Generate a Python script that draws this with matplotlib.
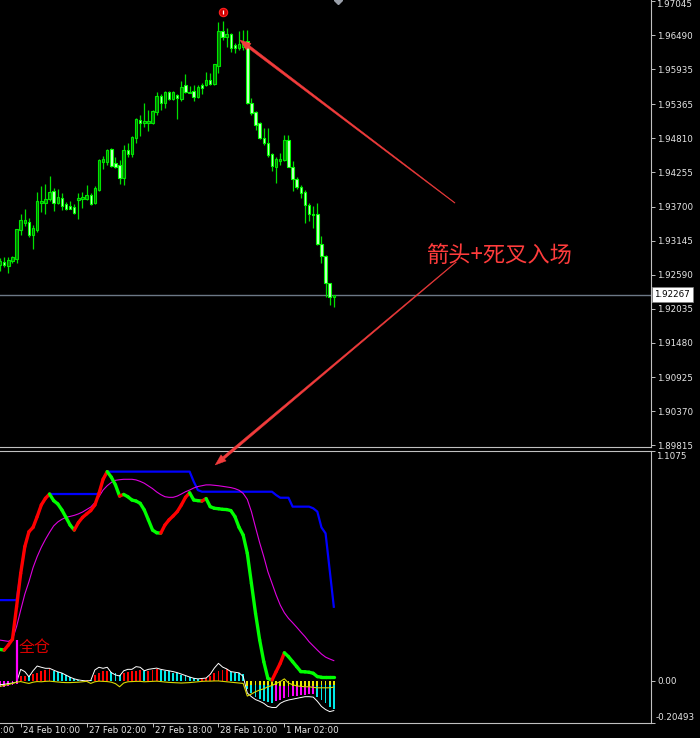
import numpy as np
import matplotlib
matplotlib.use("Agg")
import matplotlib.pyplot as plt
from matplotlib.collections import LineCollection
from matplotlib.patches import Polygon
from matplotlib import transforms as mtransforms

plt.rcParams['font.family'] = ['DejaVu Sans']

# ---------------- H1 price bars (bar 0 = 24 Feb 10:00) ----------------
bar_index = list(range(-5, 77))

open_ = [1.92749, 1.92797, 1.92733, 1.92814, 1.92846,
         1.93318, 1.93432, 1.93448, 1.93237, 1.93318, 1.93758, 1.93758, 1.93823, 1.93953, 1.93758,
         1.93839, 1.93741, 1.93709, 1.93693, 1.93806, 1.93823, 1.93823, 1.93888, 1.93758, 1.93969,
         1.94425, 1.94425, 1.94636, 1.94409, 1.94376, 1.94164, 1.94620, 1.94555, 1.94815, 1.95108,
         1.95059, 1.95059, 1.95059, 1.95238, 1.95499, 1.95385, 1.95564, 1.95450, 1.95515, 1.95450,
         1.95678, 1.95548, 1.95580, 1.95483, 1.95678, 1.95678, 1.95759, 1.95694, 1.95987, 1.96557,
         1.96459, 1.96508, 1.96329, 1.96280, 1.96296, 1.96394, 1.95385, 1.95238, 1.95059, 1.94815,
         1.94734, 1.94555, 1.94343, 1.94441, 1.94457, 1.94783, 1.94343, 1.94148, 1.94018, 1.93937,
         1.93725, 1.93579, 1.93579, 1.93090, 1.92895, 1.92456, 1.92228]
high = [1.92863, 1.92879, 1.92879, 1.92895, 1.93335,
        1.93579, 1.93660, 1.93514, 1.93400, 1.93937, 1.94034, 1.94067, 1.94197, 1.94002, 1.93985,
        1.93920, 1.93774, 1.93790, 1.93741, 1.93920, 1.93937, 1.94051, 1.93920, 1.94034, 1.94474,
        1.94522, 1.94636, 1.94653, 1.94506, 1.94457, 1.94701, 1.94734, 1.94848, 1.95141, 1.95190,
        1.95385, 1.95271, 1.95271, 1.95564, 1.95531, 1.95580, 1.95580, 1.95580, 1.95531, 1.95743,
        1.95857, 1.95662, 1.95678, 1.95678, 1.95710, 1.95889, 1.95873, 1.96020, 1.96703, 1.96719,
        1.96605, 1.96524, 1.96361, 1.96557, 1.96573, 1.96573, 1.95466, 1.95255, 1.95076, 1.94978,
        1.94978, 1.94571, 1.94506, 1.94571, 1.94864, 1.94864, 1.94441, 1.94181, 1.94051, 1.93969,
        1.93758, 1.93709, 1.93758, 1.93221, 1.92911, 1.92456, 1.92267]
low = [1.92651, 1.92716, 1.92618, 1.92781, 1.92781,
       1.93237, 1.93383, 1.93204, 1.93009, 1.93286, 1.93611, 1.93579, 1.93790, 1.93627, 1.93741,
       1.93644, 1.93644, 1.93660, 1.93579, 1.93497, 1.93676, 1.93806, 1.93725, 1.93741, 1.93953,
       1.94311, 1.94376, 1.94343, 1.94327, 1.94067, 1.94051, 1.94506, 1.94506, 1.94734, 1.94848,
       1.94994, 1.94929, 1.95043, 1.95190, 1.95271, 1.95304, 1.95434, 1.95434, 1.95125, 1.95418,
       1.95548, 1.95548, 1.95418, 1.95466, 1.95531, 1.95662, 1.95678, 1.95678, 1.95873, 1.96410,
       1.96296, 1.96215, 1.96199, 1.96247, 1.96247, 1.95369, 1.95190, 1.94946, 1.94799, 1.94701,
       1.94506, 1.94278, 1.94083, 1.94376, 1.94441, 1.94343, 1.93953, 1.93985, 1.93839, 1.93432,
       1.93465, 1.93351, 1.93074, 1.92781, 1.92228, 1.92098, 1.92065]
close = [1.92814, 1.92749, 1.92830, 1.92879, 1.93335,
         1.93481, 1.93481, 1.93237, 1.93351, 1.93790, 1.93790, 1.93823, 1.93937, 1.93758, 1.93855,
         1.93709, 1.93660, 1.93660, 1.93595, 1.93839, 1.93855, 1.93888, 1.93741, 1.94002, 1.94457,
         1.94474, 1.94620, 1.94360, 1.94343, 1.94164, 1.94620, 1.94555, 1.94832, 1.95125, 1.95059,
         1.95092, 1.95092, 1.95255, 1.95499, 1.95385, 1.95564, 1.95450, 1.95564, 1.95466, 1.95645,
         1.95564, 1.95564, 1.95483, 1.95645, 1.95629, 1.95759, 1.95694, 1.96020, 1.96557, 1.96459,
         1.96508, 1.96280, 1.96280, 1.96345, 1.96378, 1.95385, 1.95222, 1.95027, 1.94815, 1.94734,
         1.94539, 1.94360, 1.94474, 1.94474, 1.94783, 1.94343, 1.94148, 1.94018, 1.93920, 1.93725,
         1.93579, 1.93562, 1.93090, 1.92895, 1.92456, 1.92228, 1.92267]

time_ticks = [-16, 0, 16, 32, 48, 64]
time_labels = ["23 Feb 18:00", "24 Feb 10:00", "27 Feb 02:00", "27 Feb 18:00",
               "28 Feb 10:00", "1 Mar 02:00"]
price_ticks = [1.97045, 1.96490, 1.95935, 1.95365, 1.94810, 1.94255, 1.93700,
               1.93145, 1.92590, 1.92035, 1.91480, 1.90925, 1.90370, 1.89815]
price_range = (1.89787, 1.97061)

# ---------------- oscillator window ----------------
osc_range = (-0.20493, 1.1075)
main_line = [0.150, 0.147, 0.171, 0.199, 0.356,
             0.517, 0.646, 0.718, 0.739, 0.791, 0.847, 0.879, 0.900, 0.868, 0.852,
             0.823, 0.787, 0.750, 0.726, 0.762, 0.787, 0.804, 0.820, 0.847, 0.903,
             0.971, 1.008, 0.981, 0.944, 0.890, 0.898, 0.887, 0.871, 0.866, 0.855,
             0.823, 0.775, 0.726, 0.713, 0.711, 0.750, 0.775, 0.794, 0.815, 0.847,
             0.884, 0.906, 0.871, 0.868, 0.866, 0.878, 0.839, 0.831, 0.829, 0.826,
             0.825, 0.820, 0.791, 0.739, 0.702, 0.614, 0.469, 0.324, 0.196, 0.091,
             0.010, 0.002, 0.043, 0.083, 0.134, 0.115, 0.091, 0.067, 0.043, 0.042,
             0.040, 0.035, 0.019, 0.016, 0.016, 0.016, 0.016]
upper_line = [0.388, 0.388, 0.388, 0.388, 0.388,
              0.517, 0.646, 0.718, 0.739, 0.791, 0.847, 0.879, 0.900, 0.900, 0.900,
              0.900, 0.900, 0.900, 0.900, 0.900, 0.900, 0.900, 0.900, 0.900, 0.900,
              0.971, 1.008, 1.008, 1.008, 1.008, 1.008, 1.008, 1.008, 1.008, 1.008,
              1.008, 1.008, 1.008, 1.008, 1.008, 1.008, 1.008, 1.008, 1.008, 1.008,
              1.008, 1.008, 0.960, 0.919, 0.911, 0.911, 0.911, 0.911, 0.911, 0.911,
              0.911, 0.911, 0.911, 0.911, 0.911, 0.911, 0.911, 0.911, 0.911, 0.911,
              0.911, 0.911, 0.895, 0.882, 0.882, 0.882, 0.839, 0.839, 0.839, 0.839,
              0.839, 0.831, 0.815, 0.739, 0.710, 0.533, 0.356]
signal_line = [0.195, 0.192, 0.189, 0.199, 0.260,
               0.340, 0.417, 0.477, 0.545, 0.598, 0.643, 0.681, 0.715, 0.746, 0.765,
               0.778, 0.787, 0.792, 0.797, 0.804, 0.813, 0.825, 0.837, 0.858, 0.887,
               0.919, 0.940, 0.956, 0.966, 0.969, 0.971, 0.971, 0.971, 0.968, 0.961,
               0.952, 0.939, 0.926, 0.910, 0.897, 0.887, 0.884, 0.884, 0.890, 0.900,
               0.911, 0.919, 0.929, 0.936, 0.940, 0.944, 0.944, 0.942, 0.940, 0.937,
               0.934, 0.931, 0.926, 0.918, 0.903, 0.874, 0.815, 0.739, 0.665, 0.598,
               0.525, 0.469, 0.413, 0.364, 0.327, 0.300, 0.279, 0.257, 0.234, 0.212,
               0.187, 0.167, 0.147, 0.128, 0.113, 0.104, 0.096]
histogram = [-0.033, -0.030, -0.026, -0.022, -0.016,
             0.022, 0.024, 0.020, 0.031, 0.038, 0.044, 0.051, 0.054, 0.047, 0.041,
             0.035, 0.025, 0.015, 0.007, 0.004, 0.002, 0.003, 0.002, 0.027, 0.038,
             0.044, 0.047, 0.041, 0.035, 0.028, 0.035, 0.041, 0.044, 0.047, 0.051,
             0.044, 0.047, 0.051, 0.054, 0.051, 0.047, 0.044, 0.038, 0.035, 0.028,
             0.022, 0.015, 0.010, 0.007, 0.008, 0.010, 0.022, 0.035, 0.047, 0.051,
             0.054, 0.041, 0.038, 0.035, 0.031, -0.040, -0.062, -0.078, -0.090, -0.100,
             -0.106, -0.110, -0.100, -0.093, -0.085, -0.080, -0.077, -0.075, -0.072, -0.069,
             -0.067, -0.064, -0.078, -0.094, -0.110, -0.126, -0.139]
weak_histogram = [0.0, 0.0, 0.0, 0.0, 0.0,
                  0.0, 0.0, 0.0, 0.0, 0.0, 0.0, 0.0, 0.0, 0.0, 0.0,
                  0.0, 0.0, 0.0, 0.0, 0.0, 0.0, 0.0, 0.0, 0.0, 0.0,
                  0.0, 0.0, 0.0, 0.0, 0.0, 0.0, 0.0, 0.0, 0.0, 0.0,
                  0.0, 0.0, 0.0, 0.0, 0.0, 0.0, 0.0, 0.0, 0.0, 0.0,
                  0.0, 0.0, 0.0, 0.0, 0.0, 0.0, 0.0, 0.0, 0.0, 0.0,
                  0.0, 0.0, 0.0, 0.0, 0.0, -0.025, -0.022, -0.020, -0.020, -0.020,
                  -0.020, -0.020, -0.022, -0.024, -0.025, -0.026, -0.027, -0.027, -0.027, -0.027,
                  -0.027, -0.027, -0.025, -0.022, -0.020, -0.020, -0.020]
fast_line = [-0.020, -0.018, -0.015, -0.012, -0.008,
             0.054, 0.043, 0.018, 0.047, 0.070, 0.064, 0.059, 0.059, 0.050, 0.042,
             0.036, 0.026, 0.016, 0.008, 0.003, 0.000, -0.002, 0.000, 0.051, 0.064,
             0.059, 0.064, 0.038, 0.027, 0.022, 0.047, 0.054, 0.054, 0.067, 0.064,
             0.047, 0.054, 0.057, 0.060, 0.054, 0.050, 0.047, 0.043, 0.038, 0.031,
             0.024, 0.017, 0.011, 0.008, 0.010, 0.012, 0.030, 0.060, 0.083, 0.065,
             0.056, 0.043, 0.040, 0.037, 0.020, -0.060, -0.078, -0.092, -0.100, -0.110,
             -0.125, -0.130, -0.130, -0.110, -0.100, -0.094, -0.090, -0.086, -0.082, -0.078,
             -0.078, -0.080, -0.100, -0.125, -0.140, -0.150, -0.145]
slow_line = [-0.028, -0.024, -0.019, -0.014, -0.008,
             -0.005, -0.010, -0.014, -0.008, -0.005, -0.006, -0.004, -0.003, -0.005, -0.007,
             -0.009, -0.010, -0.010, -0.009, -0.008, -0.006, -0.004, -0.014, -0.006, -0.003,
             -0.004, -0.005, -0.008, -0.015, -0.030, -0.012, -0.006, -0.005, -0.004, -0.004,
             -0.006, -0.005, -0.004, -0.003, -0.005, -0.007, -0.009, -0.010, -0.011, -0.012,
             -0.011, -0.010, -0.008, -0.006, -0.004, -0.003, -0.003, -0.002, -0.002, -0.004,
             -0.006, -0.008, -0.010, -0.012, -0.014, -0.075, -0.065, -0.054, -0.046, -0.040,
             -0.030, -0.024, -0.014, -0.005, 0.008, -0.012, -0.020, -0.026, -0.028, -0.030,
             -0.030, -0.033, -0.035, -0.035, -0.035, -0.035, -0.032]

entry_bar = 49          # arrow signal above this bar
full_pos_bar = -1       # "全仓" marker
full_pos_level = 0.195

# ---------------- figure layout (pixel based) ----------------
FIG_W, FIG_H = 700, 738
fig = plt.figure(figsize=(FIG_W / 100, FIG_H / 100), dpi=100, facecolor='black')


def px_rect(x0, y0, x1, y1):
    return [x0 / FIG_W, 1 - y1 / FIG_H, (x1 - x0) / FIG_W, (y1 - y0) / FIG_H]


ax_p = fig.add_axes(px_rect(0, 0, 651, 447))
ax_o = fig.add_axes(px_rect(0, 451, 651, 723))

XLIM = (-5.024, 152.99)
GRAY = '#c0c0c0'
TXT = '#e6e6e6'
FS = 6.3
CJK = ['Noto Sans CJK SC', 'DejaVu Sans']

for ax in (ax_p, ax_o):
    ax.set_facecolor('black')
    ax.spines['left'].set_visible(False)
    for side in ('right', 'bottom', 'top'):
        ax.spines[side].set_color(GRAY)
        ax.spines[side].set_linewidth(0.8)
    ax.yaxis.tick_right()
    ax.tick_params(axis='y', colors=GRAY, labelcolor=TXT, labelsize=FS,
                   direction='out', length=3, width=0.7, pad=1.5)
ax_p.spines['top'].set_visible(False)

# ---------------- candles ----------------
x = np.array(bar_index, dtype=float)
o = np.array(open_); h = np.array(high); l = np.array(low); c = np.array(close)
up = c >= o
ax_p.vlines(x, l, h, color='#00e000', lw=0.9, zorder=2)
body_lo = np.minimum(o, c)
body_h = np.maximum(np.abs(c - o), 0.00004)
ax_p.bar(x[up], body_h[up], bottom=body_lo[up], width=0.6,
         color='#007a00', edgecolor='#00e600', linewidth=0.8, zorder=3)
ax_p.bar(x[~up], body_h[~up], bottom=body_lo[~up], width=0.6,
         color='#c8ffc8', edgecolor='#00ff00', linewidth=0.8, zorder=3)

ax_p.set_ylim(*price_range)
ax_p.set_yticks(price_ticks)
ax_p.set_yticklabels([''] + [f"{v:.5f}" for v in price_ticks[1:]])
ax_p.text(1.0, 1.0, f"{price_ticks[0]:.5f}", ha='left', va='top', fontsize=FS, color=TXT,
          transform=mtransforms.offset_copy(ax_p.transAxes, fig=fig, x=5, y=0, units='dots'))
ax_p.set_xticks([])
ax_p.set_xlim(*XLIM)

# current price line and label
last = close[-1]
ax_p.axhline(last, color='#6c7886', lw=1.0, zorder=1)
ax_p.annotate(f"{last:.5f}", xy=(1, last), xycoords=ax_p.get_yaxis_transform(),
              xytext=(2.4, 0), textcoords='offset points', ha='left', va='center',
              fontsize=FS, color='black', annotation_clip=False,
              bbox=dict(boxstyle='square,pad=0.3', fc='white', ec='#808080', lw=0.5))

# sell signal mark above the bar
sig_tr = mtransforms.offset_copy(ax_p.transData, fig=fig, x=0, y=9, units='dots')
ax_p.plot([entry_bar], [high[bar_index.index(entry_bar)]], marker='o', ms=6,
          mfc='#d00000', mec='#ff2020', mew=0.8, transform=sig_tr, zorder=5)
ax_p.plot([entry_bar], [high[bar_index.index(entry_bar)]], marker='|', ms=3.5,
          mec='white', mew=0.9, transform=sig_tr, zorder=6)
ax_p.plot([77], [1.0], marker='D', ms=4, color='#9aa0aa',
          transform=ax_p.get_xaxis_transform(), clip_on=False, zorder=5)

# ---------------- oscillator ----------------
ax_o.set_ylim(*osc_range)
ax_o.set_yticks([osc_range[0], 0.0, osc_range[1]])
ax_o.set_yticklabels(['', '0.00', ''])
ax_o.text(1.0, 1.0, "1.1075", ha='left', va='top', fontsize=FS, color=TXT,
          transform=mtransforms.offset_copy(ax_o.transAxes, fig=fig, x=5, y=-1, units='dots'))
ax_o.text(1.0, 0.0, "-0.20493", ha='left', va='bottom', fontsize=FS, color=TXT,
          transform=mtransforms.offset_copy(ax_o.transAxes, fig=fig, x=5, y=1, units='dots'))

hist = np.array(histogram)
prev = np.concatenate([[hist[0]], hist[:-1]])
hcol = []
for v, p in zip(hist, prev):
    if v >= 0:
        hcol.append('#ff0000' if v >= p else '#00e8e8')
    else:
        hcol.append('#00e8e8' if v < p else '#ff00ff')
ax_o.bar(x, hist, width=0.45, color=hcol, zorder=2)
ax_o.bar(x, weak_histogram, width=0.45, color='#e8e800', zorder=2.5)
ax_o.plot(x, fast_line, color='white', lw=0.7, zorder=3)
ax_o.plot(x, slow_line, color='#d8d800', lw=0.8, zorder=3)

ax_o.plot(x, upper_line, color='#0000ff', lw=1.6, zorder=4)
ax_o.plot(x, signal_line, color='#e000e0', lw=0.8, zorder=4)

m = np.array(main_line)
segs = [[(x[k], m[k]), (x[k + 1], m[k + 1])] for k in range(len(m) - 1)]
seg_col = ['#ff0000' if m[k + 1] > m[k] else '#00ff00' for k in range(len(m) - 1)]
ax_o.add_collection(LineCollection(segs, colors=seg_col, linewidths=2.4,
                                   capstyle='round', zorder=5))

ax_o.vlines(full_pos_bar, 0, full_pos_level, color='#ff00ff', lw=1.6, zorder=6)
ax_o.annotate("全仓", xy=(full_pos_bar, full_pos_level), xytext=(1.2, 0.8),
              textcoords='offset points', ha='left', va='top', fontsize=11.5,
              color='#d80000', family=CJK, zorder=7)

# time axis: ticks inside the view, labels to the right of each tick
ax_o.set_xticks([t for t in time_ticks if t >= XLIM[0]])
ax_o.set_xticklabels([])
ax_o.tick_params(axis='x', colors=GRAY, direction='out', length=3, width=0.7)
ax_o.set_xlim(*XLIM)
lab_tr = mtransforms.blended_transform_factory(ax_o.transData, ax_o.transAxes) + \
    mtransforms.ScaledTranslation(2 / 100, -3 / 100, fig.dpi_scale_trans)
for t, lab in zip(time_ticks, time_labels):
    ax_o.text(t, 0.0, lab, transform=lab_tr, ha='left', va='top', fontsize=FS,
              color=TXT, clip_on=False)

# ---------------- annotation arrows and text ----------------
ax_p.text(98.6, 1.92911, "箭头+死叉入场", fontsize=16, color='#ff3c3c',
          family=CJK, ha='left', va='center', zorder=8)


def tapered_arrow(ax_tail, tail, ax_head, head, color='#f23c3c',
                  w_tail=0.6, w_head=2.8, head_len=11, head_w=8):
    t = np.array(ax_tail.transData.transform(tail))
    hd = np.array(ax_head.transData.transform(head))
    d = hd - t
    u = d / np.hypot(*d)
    n = np.array([-u[1], u[0]])
    base = hd - u * head_len
    shaft = [t + n * w_tail / 2, base + n * w_head / 2, base - n * w_head / 2, t - n * w_tail / 2]
    tip = [hd, base + n * head_w / 2, base - n * head_w / 2]
    inv = fig.transFigure.inverted()
    for pts in (shaft, tip):
        fig.add_artist(Polygon(inv.transform(np.array(pts)), closed=True,
                               transform=fig.transFigure, facecolor=color,
                               edgecolor=color, lw=0.3, zorder=10))


tapered_arrow(ax_p, (105.4, 1.93758), ax_p, (53.2, 1.96410))
tapered_arrow(ax_p, (105.7, 1.92797), ax_o, (47.2, 1.040))

fig.savefig("out.png", dpi=100, facecolor='black')
